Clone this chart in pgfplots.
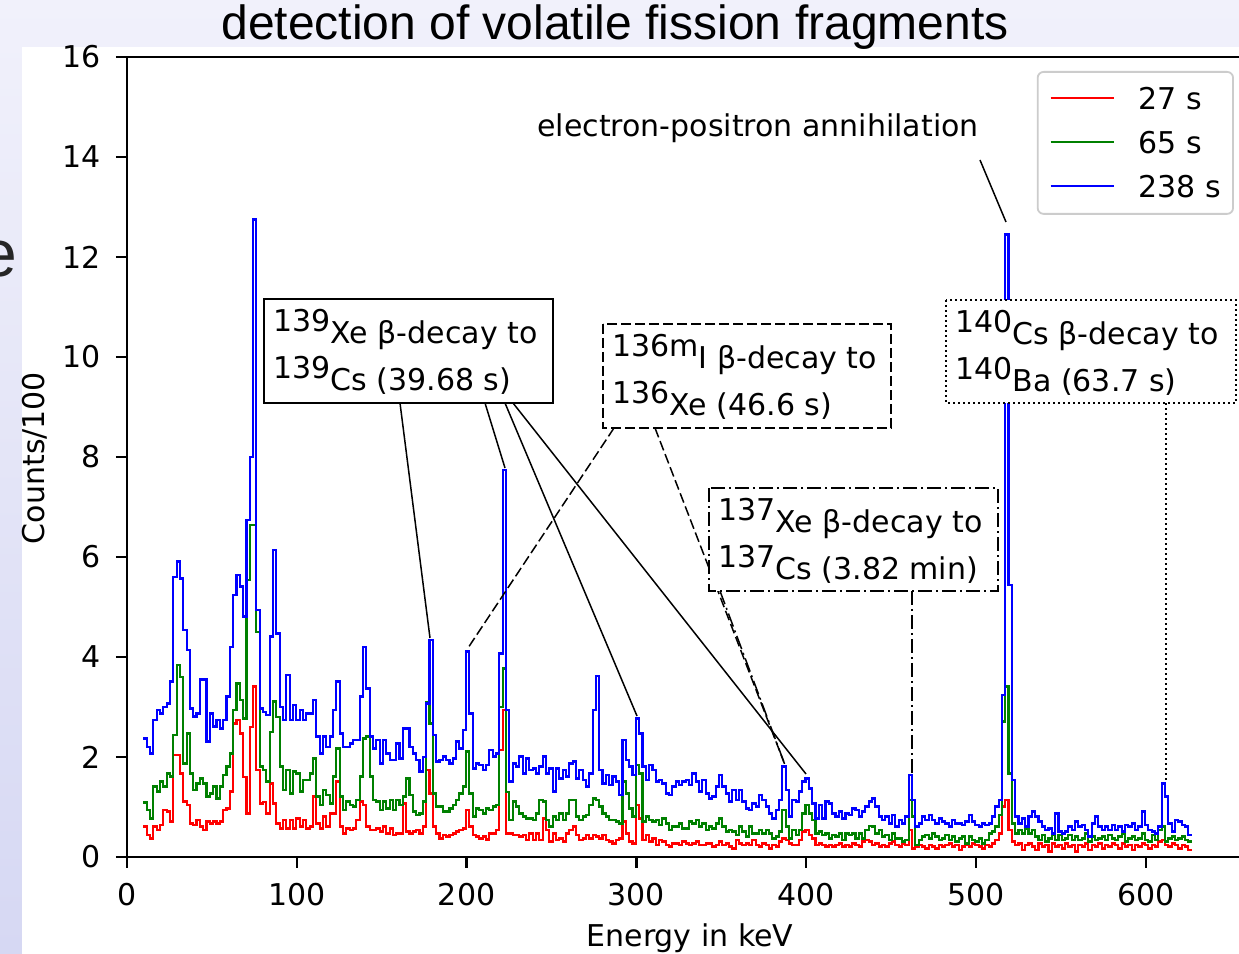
\documentclass[border=0pt]{standalone}
\usepackage{pgfplots}
\pgfplotsset{compat=1.18}
\usepackage{pgfplotstable}
\usepackage{fontspec}
\setmainfont{DejaVu Sans}
\newfontfamily\titlefont{Liberation Sans}
\definecolor{mplred}{rgb}{1,0,0}
\definecolor{mplgreen}{rgb}{0,0.5,0}
\definecolor{mplblue}{rgb}{0,0,1}
\definecolor{bgtop}{RGB}{241,241,251}
\definecolor{bgbot}{RGB}{214,216,243}
\definecolor{legedge}{RGB}{204,204,204}

\pgfplotstableread{
r g b
0.61 1.09 2.37
0.44 0.94 2.2
0.37 0.77 2.07
0.61 1.41 2.74
0.54 1.31 2.94
0.64 1.51 2.87
0.94 1.41 3.0
0.91 1.67 3.07
0.71 1.61 3.51
2.04 2.44 5.6
2.04 3.84 5.91
1.67 3.6 5.57
1.11 1.87 4.54
1.04 2.47 4.14
0.67 1.67 2.97
0.64 1.34 2.81
0.74 1.47 2.87
0.61 1.57 3.55
0.54 1.47 3.55
0.71 1.21 2.31
0.67 1.27 2.87
0.71 1.41 2.61
0.67 1.17 2.74
0.71 1.41 2.57
0.94 1.64 2.74
0.97 1.81 3.21
1.31 2.07 4.2
2.67 2.94 5.24
2.74 3.47 5.64
2.47 3.14 5.41
1.6 2.77 4.81
0.87 5.54 6.74
2.6 6.64 8.0
3.41 6.64 12.75
1.74 4.5 4.94
1.07 1.81 2.97
1.1 1.74 2.9
0.87 1.51 2.84
1.47 2.5 4.41
1.07 3.11 6.14
0.67 2.8 4.47
0.57 1.81 3.0
0.74 1.34 2.74
0.57 1.74 3.64
0.74 1.27 2.74
0.57 1.71 3.04
0.77 1.67 2.74
0.61 1.31 2.94
0.74 1.54 2.74
0.57 1.54 2.87
0.61 1.67 2.87
1.21 1.97 3.14
0.67 1.21 2.41
0.57 1.04 2.07
0.81 1.34 2.41
0.61 1.24 2.2
0.87 1.07 2.41
0.87 1.61 2.94
1.51 2.17 3.51
0.61 1.21 2.47
0.47 0.94 2.2
0.57 1.11 2.2
0.54 1.04 2.27
0.57 1.01 2.34
0.74 1.14 2.34
1.11 1.61 3.21
1.04 2.37 4.2
0.61 2.41 3.37
0.54 1.61 2.41
0.54 1.14 2.17
0.57 1.11 2.34
0.51 0.94 1.87
0.61 1.11 2.34
0.47 0.97 2.07
0.57 1.14 1.94
0.44 0.94 1.94
0.47 1.14 2.27
0.47 1.04 1.97
1.07 1.21 2.57
0.51 1.57 2.57
0.47 1.24 2.2
0.51 0.91 2.07
0.54 0.84 1.94
0.47 0.87 1.71
0.61 1.11 2.0
1.74 3.1 3.07
1.27 2.67 4.34
0.61 1.27 2.44
0.47 1.01 1.91
0.37 1.01 1.94
0.44 0.91 2.01
0.41 0.91 1.94
0.44 0.97 1.87
0.47 1.04 1.97
0.51 1.14 2.31
0.54 1.27 2.17
0.57 1.41 2.54
0.94 2.11 4.11
0.61 1.27 2.87
0.44 0.81 1.77
0.41 0.97 1.87
0.37 0.94 1.84
0.41 0.87 1.74
0.35 0.97 1.84
0.47 0.94 2.14
0.47 1.01 2.01
0.54 1.04 2.07
2.14 3.0 4.07
2.94 3.77 7.74
0.47 1.3 2.94
0.47 0.74 1.51
0.44 1.11 1.87
0.44 1.01 1.81
0.41 0.87 2.01
0.44 0.81 1.67
0.34 0.77 1.97
0.47 0.77 1.74
0.34 0.74 1.77
0.47 0.87 1.67
0.34 1.14 1.81
0.77 1.11 2.01
0.54 0.74 1.67
0.31 0.61 1.77
0.47 0.81 1.31
0.34 0.74 1.77
0.37 0.87 1.57
0.31 0.74 1.74
0.47 0.87 1.61
0.54 1.14 1.87
0.61 1.14 1.91
0.44 0.81 1.57
0.34 0.74 1.74
0.37 0.81 1.54
0.44 0.84 1.41
0.37 1.04 1.67
0.44 1.17 2.94
0.41 1.14 3.62
0.37 1.01 1.74
0.44 0.87 1.47
0.34 0.81 1.64
0.31 0.74 1.44
0.27 0.74 1.61
0.34 0.71 1.51
0.37 0.67 1.24
0.71 1.51 2.34
0.47 1.27 1.94
0.31 0.97 1.81
0.27 0.81 1.64
1.04 1.84 2.77
0.77 1.67 2.47
0.34 0.71 1.81
0.44 0.81 1.54
0.31 0.74 1.84
0.37 0.71 1.74
0.24 0.74 1.51
0.34 0.64 1.54
0.31 0.77 1.47
0.24 0.67 1.27
0.21 0.54 1.24
0.27 0.61 1.41
0.27 0.61 1.51
0.24 0.67 1.44
0.31 0.57 1.51
0.27 0.57 1.54
0.24 0.71 1.44
0.27 0.67 1.67
0.31 0.74 1.51
0.24 0.61 1.31
0.24 0.67 1.54
0.27 0.54 1.27
0.27 0.61 1.17
0.21 0.57 1.21
0.24 0.67 1.41
0.31 0.77 1.64
0.24 0.61 1.41
0.27 0.51 1.27
0.21 0.54 1.11
0.17 0.51 1.34
0.34 0.44 1.14
0.27 0.61 1.34
0.24 0.51 1.11
0.27 0.41 0.97
0.24 0.61 0.94
0.34 0.47 1.07
0.24 0.47 1.01
0.21 0.54 1.24
0.27 0.47 1.14
0.24 0.54 1.01
0.17 0.47 0.87
0.24 0.37 0.77
0.21 0.41 0.94
0.31 0.51 1.14
0.37 0.94 1.81
0.34 0.61 1.34
0.27 0.37 0.81
0.24 0.54 1.14
0.24 0.44 1.11
0.34 0.54 1.31
0.51 0.87 1.51
0.54 1.04 1.57
0.44 0.87 1.37
0.37 0.74 1.07
0.24 0.47 0.77
0.27 0.51 1.04
0.24 0.44 0.77
0.21 0.47 1.11
0.24 0.37 1.07
0.21 0.44 0.87
0.24 0.41 0.81
0.27 0.47 0.91
0.21 0.34 0.77
0.24 0.47 0.87
0.21 0.44 0.84
0.27 0.47 0.97
0.24 0.37 0.94
0.21 0.47 0.81
0.31 0.37 0.91
0.34 0.54 1.01
0.31 0.62 1.11
0.24 0.61 1.17
0.27 0.47 1.01
0.21 0.54 0.81
0.24 0.41 0.74
0.21 0.44 0.81
0.27 0.34 0.67
0.31 0.47 0.84
0.24 0.37 0.61
0.21 0.37 0.74
0.27 0.31 0.67
0.24 0.34 0.81
0.54 1.14 1.64
0.17 0.81 1.14
0.21 0.24 0.61
0.24 0.34 0.67
0.21 0.41 0.81
0.17 0.44 0.74
0.24 0.37 0.84
0.21 0.47 0.74
0.17 0.41 0.67
0.24 0.34 0.77
0.21 0.37 0.71
0.24 0.44 0.67
0.27 0.34 0.61
0.21 0.41 0.74
0.24 0.31 0.67
0.14 0.37 0.67
0.21 0.41 0.64
0.24 0.27 0.71
0.21 0.41 0.84
0.27 0.34 0.71
0.24 0.31 0.64
0.21 0.37 0.61
0.17 0.27 0.67
0.24 0.34 0.64
0.21 0.47 0.67
0.27 0.51 0.81
0.34 0.61 1.01
0.47 0.84 1.14
1.01 2.71 3.24
1.14 3.41 12.45
0.54 1.67 5.44
0.31 0.67 1.54
0.24 0.47 0.81
0.27 0.54 0.67
0.14 0.47 0.77
0.24 0.57 0.61
0.27 0.47 0.81
0.21 0.54 0.91
0.14 0.41 0.81
0.27 0.34 0.71
0.21 0.44 0.61
0.24 0.31 0.54
0.11 0.37 0.57
0.27 0.44 0.47
0.21 0.34 0.87
0.24 0.44 0.51
0.17 0.34 0.47
0.27 0.37 0.51
0.21 0.44 0.61
0.24 0.34 0.54
0.11 0.41 0.71
0.24 0.34 0.61
0.21 0.37 0.64
0.27 0.47 0.54
0.14 0.31 0.41
0.24 0.41 0.67
0.21 0.34 0.81
0.27 0.37 0.61
0.17 0.41 0.54
0.24 0.34 0.61
0.21 0.44 0.54
0.27 0.37 0.64
0.24 0.34 0.54
0.17 0.41 0.61
0.27 0.47 0.51
0.21 0.31 0.64
0.24 0.37 0.61
0.14 0.41 0.67
0.24 0.34 0.54
0.21 0.37 0.61
0.27 0.47 0.91
0.24 0.34 0.64
0.17 0.31 0.54
0.24 0.44 0.51
0.21 0.34 0.47
0.31 0.54 0.61
0.34 0.61 1.47
0.24 0.31 1.21
0.21 0.37 0.67
0.27 0.41 0.51
0.24 0.34 0.74
0.17 0.37 0.71
0.24 0.41 0.64
0.21 0.34 0.61
0.14 0.31 0.44
0.14 0.31 0.44
}\spec

\newcommand{\iso}[2]{\raisebox{6pt}{#1}#2}

\begin{document}
\begin{tikzpicture}[font=\fontsize{15}{18}\selectfont]
\shade[top color=bgtop, bottom color=bgbot] (0pt,0pt) rectangle (619.5pt,477pt);
\fill[white] (11pt,0pt) rectangle (619.5pt,453.5pt);
\begin{axis}[
  at={(63.5pt,48.5pt)}, anchor=south west,
  scale only axis, width=562pt, height=400pt,
  xmin=0, xmax=662, ymin=0, ymax=16,
  xtick={0,100,...,600}, ytick={0,2,...,16},
  tick pos=left, tick align=outside,
  major tick length=5.5pt,
  tick style={black, line width=1.2pt},
  axis line style={line width=1.2pt},
  /pgf/number format/assume math mode=true,
  ticklabel style={font=\fontsize{15}{18}\selectfont},
  xticklabel style={anchor=base, inner sep=0pt, yshift=-18.5pt},
  yticklabel style={anchor=east, inner sep=0pt, xshift=-7.5pt},
  legend style={at={(rel axis cs:1,1)}, anchor=north east, xshift=-8.5pt, yshift=-7pt,
    draw=legedge, line width=0.9pt, rounded corners=3pt, fill=white, fill opacity=0.8, text opacity=1,
    inner xsep=6pt, inner ysep=8pt, row sep=11pt, column sep=12pt,
    nodes={inner sep=0pt, text height=11pt, text depth=0pt, font=\fontsize{15}{18}\selectfont}},
  legend cell align=left,
  legend image code/.code={\draw[#1, line width=1pt, sharp corners] (0pt,0.5pt) -- (31.5pt,0.5pt);},
]
\addplot[const plot, mplred, line width=1.05pt] table[x expr=9.6+1.96*\coordindex, y=r]{\spec};
\addplot[const plot, mplgreen, line width=1.05pt] table[x expr=9.6+1.96*\coordindex, y=g]{\spec};
\addplot[const plot, mplblue, line width=1.05pt] table[x expr=9.6+1.96*\coordindex, y=b]{\spec};
\legend{27 s, 65 s, 238 s}
\end{axis}
\begin{scope}[x=0.5pt, y=-0.5pt, shift={(0pt,477pt)}, every node/.style={inner sep=0pt}]
  \node[anchor=base, font=\titlefont\fontsize{24}{28}\selectfont] at (615,40) {detection of volatile fission fragments};
  \node[anchor=base east, font=\titlefont\fontsize{33}{36}\selectfont, text=black!85] at (18,277) {e};
  \node[rotate=90, anchor=base] at (45,458) {Counts/100};
  \node[anchor=base] at (690,947) {Energy in keV};
  % electron-positron
  \node[anchor=base west] at (537,137) {electron-positron annihilation};
  \draw[line width=0.75pt] (980,160) -- (1006,222);
  % 139Xe box (solid)
  \draw[line width=0.75pt] (400,403) -- (430,638);
  \draw[line width=0.75pt] (485,403) -- (505,468);
  \draw[line width=0.75pt] (505,403) -- (637,716);
  \draw[line width=0.75pt] (513,403) -- (806,774);
  \draw[line width=0.75pt, fill=white] (264,299) rectangle (553,403);
  \node[anchor=base west] at (273,344) {\iso{139}{Xe} β-decay to};
  \node[anchor=base west] at (273,391) {\iso{139}{Cs} (39.68 s)};
  % 136mI box (dashed)
  \draw[line width=0.75pt, dash pattern=on 5pt off 2pt] (614,428) -- (468,648);
  \draw[line width=0.75pt, dash pattern=on 5pt off 2pt] (655,428) -- (785,765);
  \draw[line width=0.75pt, dash pattern=on 5pt off 2pt, fill=white] (603,324) rectangle (891,428);
  \node[anchor=base west] at (612,369) {\iso{136m}{I} β-decay to};
  \node[anchor=base west] at (612,416) {\iso{136}{Xe} (46.6 s)};
  % 137Xe box (dash-dot)
  \draw[line width=0.75pt, dash pattern=on 7pt off 2pt on 1pt off 2pt] (720,591) -- (785,765);
  \draw[line width=0.75pt, dash pattern=on 7pt off 2pt on 1pt off 2pt] (912,591) -- (912,773);
  \draw[line width=0.75pt, dash pattern=on 7pt off 2pt on 1pt off 2pt, fill=white] (709,488) rectangle (998,591);
  \node[anchor=base west] at (718,533) {\iso{137}{Xe} β-decay to};
  \node[anchor=base west] at (718,580) {\iso{137}{Cs} (3.82 min)};
  % 140Cs box (dotted)
  \draw[line width=0.75pt, dash pattern=on 1pt off 1.5pt] (1166,403) -- (1166,782);
  \draw[line width=0.75pt, dash pattern=on 1pt off 1.5pt, fill=white] (946,300) rectangle (1236,403);
  \node[anchor=base west] at (955,345) {\iso{140}{Cs} β-decay to};
  \node[anchor=base west] at (955,392) {\iso{140}{Ba} (63.7 s)};
\end{scope}
\pgfresetboundingbox
\path[use as bounding box] (0pt,0pt) rectangle (619.5pt,477pt);
\end{tikzpicture}
\end{document}
